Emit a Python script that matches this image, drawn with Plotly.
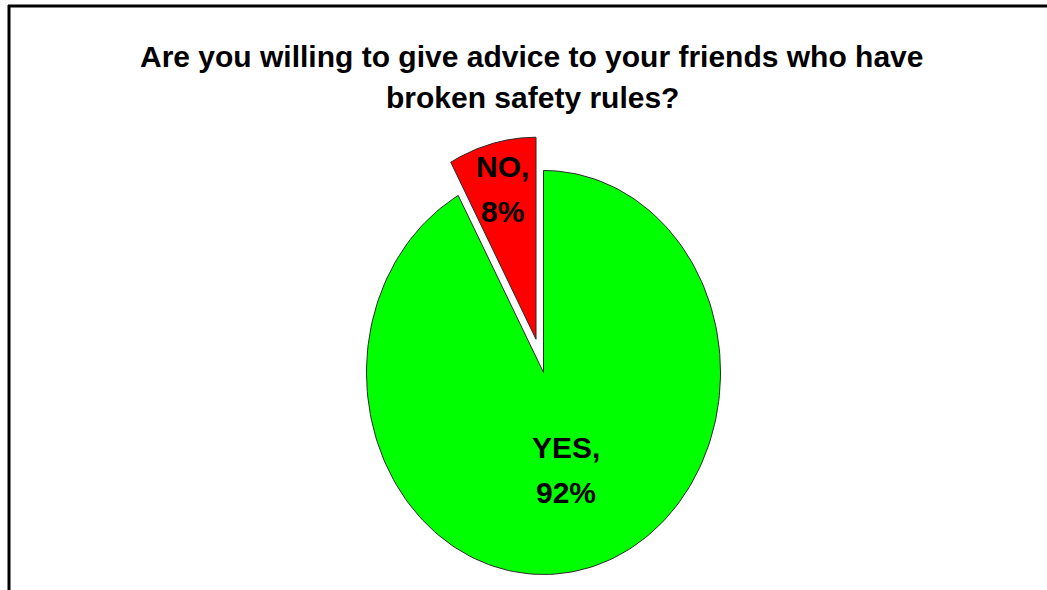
import numpy as np
import plotly.graph_objects as go

# Survey answers
categories = ["NO", "YES"]
shares = [8, 92]
slice_colors = ["#ff0000", "#00ff00"]
pulls = [0.17, 0.0]
label_radius = [0.77, 0.50]

title_lines = [
    "Are you willing to give advice to your friends who have",
    "broken safety rules?",
]

W, H = 1047, 590
cx, cy = 543.5, 372.5      # pie centre (px)
rx, ry = 177.0, 202.0      # elliptical pie radii (px)
font_family = "Arial, 'Liberation Sans', sans-serif"
font_size = 30

fig = go.Figure()

total = float(sum(shares))
start = 90.0  # first slice starts at 12 o'clock, runs counter-clockwise
for name, val, col, pull, lr in zip(categories, shares, slice_colors, pulls, label_radius):
    sweep = 360.0 * val / total
    t = np.radians(np.linspace(start, start + sweep, 200))
    mid = np.radians(start + sweep / 2)
    ox = pull * rx * np.cos(mid)
    oy = -pull * ry * np.sin(mid)
    px = cx + ox
    py = cy + oy
    xs = np.concatenate([[px], px + rx * np.cos(t), [px]])
    ys = np.concatenate([[py], py - ry * np.sin(t), [py]])
    fig.add_trace(go.Scatter(
        x=xs, y=ys, mode="lines", fill="toself", fillcolor=col,
        line=dict(color="#2a2a2a", width=1), name=name,
        hoverinfo="text", hoveron="fills", text=f"{name}, {val}%",
        showlegend=False,
    ))
    lx = px + lr * rx * np.cos(mid)
    ly = py - lr * ry * np.sin(mid)
    for k, line in enumerate([f"{name},", f"{val}%"]):
        fig.add_annotation(
            x=lx, y=ly + (k - 0.5) * 45, text=line, showarrow=False,
            xanchor="center", yanchor="middle",
            font=dict(family=font_family, size=font_size, color="black", weight="bold"),
        )
    start += sweep

for k, line in enumerate(title_lines):
    fig.add_annotation(
        x=532, y=56 + k * 41, text=line, showarrow=False,
        xanchor="center", yanchor="middle",
        font=dict(family=font_family, size=font_size, color="black", weight="bold"),
    )

# chart frame (top and left edges)
fig.add_shape(type="line", x0=8, x1=W, y0=6, y1=6, line=dict(color="black", width=3))
fig.add_shape(type="line", x0=9, x1=9, y0=5, y1=H, line=dict(color="black", width=3))

fig.update_layout(
    width=W, height=H,
    margin=dict(l=0, r=0, t=0, b=0),
    paper_bgcolor="white", plot_bgcolor="white",
    xaxis=dict(range=[0, W], visible=False, fixedrange=True),
    yaxis=dict(range=[H, 0], visible=False, fixedrange=True),
)

fig.write_html("out.html")
